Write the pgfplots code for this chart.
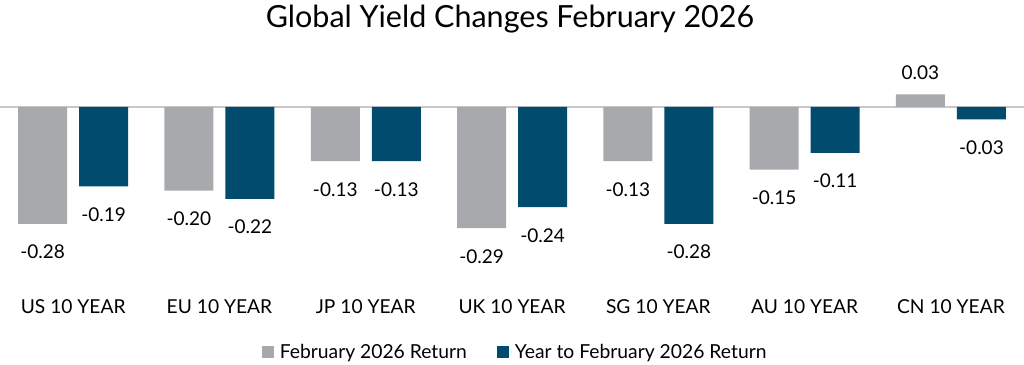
\documentclass[border=0pt]{standalone}
\usepackage{pgfplots}
\pgfplotsset{compat=1.18}
\usepackage{fontspec}
\setmainfont{Lato}
\definecolor{feb}{HTML}{A7A9AC}
\definecolor{ytd}{HTML}{004B6E}
\definecolor{zline}{HTML}{C8C8C8}
\begin{document}
\begin{tikzpicture}
\begin{axis}[
  x=146.3pt, y=418pt,
  xmin=-0.5, xmax=6.5, ymin=-0.45, ymax=0.136,
  ybar=12pt, bar width=49pt,
  axis line style={draw=none},
  ytick=\empty,
  xtick={0,1,2,3,4,5,6},
  xticklabels={US 10 YEAR, EU 10 YEAR, JP 10 YEAR, UK 10 YEAR, SG 10 YEAR, AU 10 YEAR, CN 10 YEAR},
  major tick length=0pt,
  xticklabel style={font=\fontsize{19.2}{22}\selectfont, text=black, inner sep=2pt, yshift=-2pt},
  /pgf/number format/assume math mode=true,
  nodes near coords={\pgfmathprintnumber[fixed,fixed zerofill,precision=2]{\pgfplotspointmeta}},
  every node near coord/.append style={font=\fontsize{19}{22}\selectfont, text=black, inner ysep=18pt, yshift=-3pt},
  clip=false,
  title={Global Yield Changes February 2026},
  title style={at={(axis description cs:0.498,1)}, anchor=center, yshift=25pt, font=\fontsize{30.5}{36}\selectfont},
  legend style={at={(axis description cs:0.503,0)}, anchor=center, yshift=-57pt, draw=none, fill=none,
    font=\fontsize{19.3}{22}\selectfont,
    /tikz/every odd column/.append style={column sep=4pt},
    /tikz/every even column/.append style={column sep=28pt}},
  legend columns=2,
  legend image code/.code={\fill[#1, draw=none] (0pt,-6pt) rectangle (12pt,6pt);},
]
\draw[zline, line width=2pt] (axis cs:-0.5,0) -- (axis cs:6.5,0);
\addplot[fill=feb, draw=none] coordinates {(0,-0.28) (1,-0.20) (2,-0.13) (3,-0.29) (4,-0.13) (5,-0.15) (6,0.03)};
\addplot[fill=ytd, draw=none] coordinates {(0,-0.19) (1,-0.22) (2,-0.13) (3,-0.24) (4,-0.28) (5,-0.11) (6,-0.03)};
\legend{February 2026 Return, Year to February 2026 Return}
\end{axis}
\pgfresetboundingbox
\path[use as bounding box] (0,-69pt) rectangle (1024pt,295pt);
\end{tikzpicture}
\end{document}
